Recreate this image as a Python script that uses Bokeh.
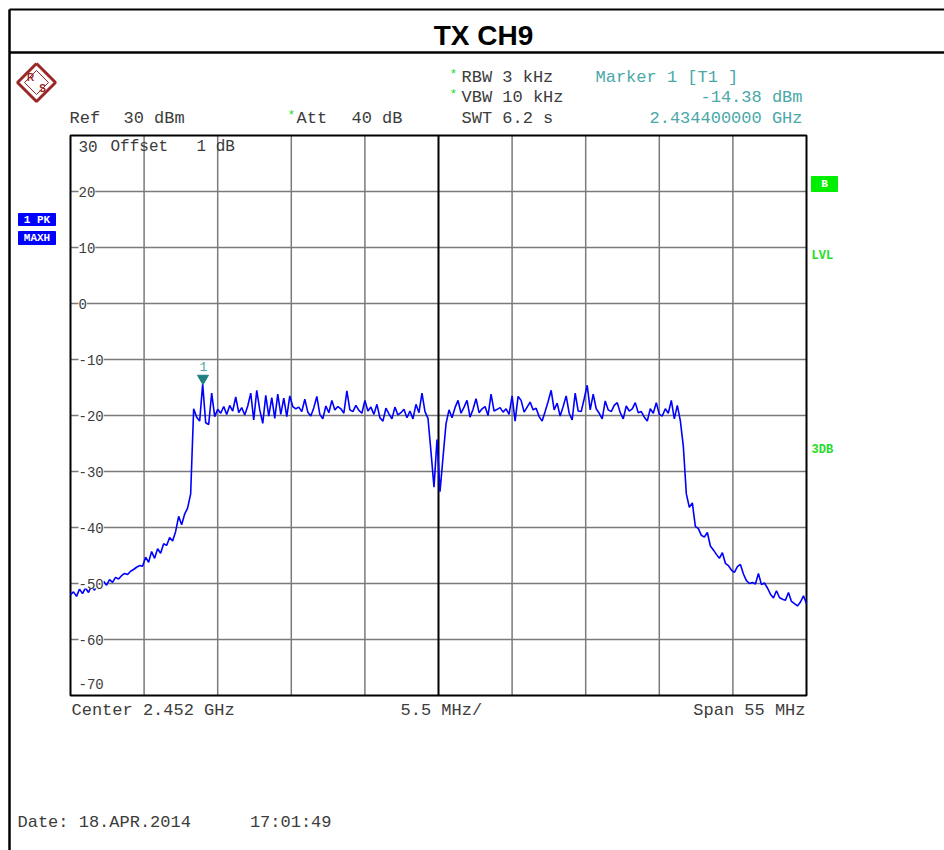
import numpy as np
from bokeh.plotting import figure
from bokeh.models import Label, Range1d
from bokeh.embed import file_html
from bokeh.resources import INLINE

# ---------------- data ----------------
CENTER_GHZ = 2.452
SPAN_GHZ = 0.055
REF_DBM = 30.0
RANGE_DB = 100.0
F_START = CENTER_GHZ - SPAN_GHZ / 2
F_STOP = CENTER_GHZ + SPAN_GHZ / 2

levels_left_skirt = [
    -52.0, -51.5, -52.3, -51.0, -51.8, -50.8, -51.6, -50.4, -51.2, -50.2,
    -50.8, -49.6, -50.3, -49.3, -49.8, -48.9, -49.2, -48.6, -48.2, -48.4,
    -47.8, -47.5, -47.1, -46.8, -46.9, -45.3, -46.2, -44.3, -45.5, -43.8,
    -44.6, -42.9, -43.2, -41.8, -42.4, -40.7, -38.0, -39.5, -37.6, -36.5,
    -34.0,
]
levels_band_low = [
    -18.8, -20.3, -21.0, -14.4, -21.3, -21.6, -16.0, -20.2, -18.9, -19.6,
    -18.4, -19.8, -18.2, -19.2, -16.7, -19.5, -18.6, -19.9, -18.3, -16.0,
    -20.8, -15.5, -19.0, -21.4, -16.4, -20.1, -16.8, -20.5, -16.2, -19.8,
    -16.9, -20.2, -16.5, -18.4, -18.8, -18.5, -19.3, -17.1, -19.4, -20.1,
    -18.6, -16.6, -19.8, -20.6, -18.3, -19.5, -17.3, -19.0, -18.4, -18.8,
    -19.6, -15.6, -19.0, -19.3, -18.2, -19.1, -19.6, -17.3, -19.2, -18.5,
    -19.8, -18.0, -20.4, -21.0, -18.7, -19.7, -20.6, -18.5, -19.9, -19.5,
    -18.9, -20.4, -19.2, -20.6, -18.0, -19.5, -16.0, -19.3, -20.5,
]
levels_notch = [-26.5, -32.8, -24.3, -33.6, -27.5, -21.5]
levels_band_high = [
    -19.0, -20.4, -18.6, -17.3, -19.6, -18.5, -17.3, -20.3, -18.9, -17.0,
    -19.5, -18.8, -18.4, -20.0, -16.2, -19.2, -18.9, -18.6, -19.4, -18.8,
    -19.8, -16.5, -21.0, -16.6, -17.3, -19.4, -18.5, -17.6, -19.0, -18.7,
    -20.2, -21.0, -19.3, -17.5, -15.5, -19.0, -17.8, -20.1, -18.4, -16.5,
    -19.6, -20.8, -16.0, -19.2, -19.3, -17.0, -14.6, -19.0, -16.2, -18.8,
    -19.6, -20.6, -17.4, -19.0, -19.3, -18.2, -17.7, -19.5, -20.6, -18.3,
    -19.2, -18.8, -17.7, -19.5, -19.3, -20.3, -21.0, -18.8, -19.6, -17.7,
    -19.8, -20.1, -18.8, -19.6, -17.3, -20.6, -18.2, -20.9,
]
levels_right_skirt = [
    -25.5, -34.0, -36.4, -35.6, -39.8, -40.2, -41.4, -41.7, -40.9, -43.3,
    -44.0, -44.8, -45.5, -44.5, -46.4, -46.8, -47.6, -48.0, -47.0, -46.6,
    -48.3, -49.5, -50.0, -49.8, -50.1, -48.2, -50.2, -49.9, -50.8, -51.9,
    -52.6, -51.3, -52.5, -52.8, -53.0, -51.6, -53.2, -53.6, -54.0, -53.3,
    -52.2, -53.6,
]

marker_freq_ghz = 2.4344
marker_level_dbm = -14.38

y_tick_values = [20, 10, 0, -10, -20, -30, -40, -50, -60]
y_tick_labels = ["20", "10", "0", "-10", "-20", "-30", "-40", "-50", "-60"]
bottom_tick_label = "-70"

title_text = "TX CH9"

levels = (levels_left_skirt + levels_band_low + levels_notch
          + levels_band_high + levels_right_skirt)
freqs = np.linspace(F_START, F_STOP, len(levels))  # analyzer sweep points

# ---------------- layout ----------------
W, H = 944, 850
PL, PT, PW, PH = 70, 135, 736, 560   # diagram area in page pixels

MONO = "Liberation Mono"
SANS = "Liberation Sans"
TEXT = "#3c3c3c"
TEAL = "#4aa8a8"
GREEN = "#1fdc2a"
GRID = "#7a7a7a"


def fx(px):
    """page pixel x -> frequency (GHz)"""
    return F_START + (px - PL) * SPAN_GHZ / PW


def fy(py):
    """page pixel y -> level (dBm)"""
    return REF_DBM - (py - PT) * RANGE_DB / PH


p = figure(width=W, height=H,
           x_range=Range1d(fx(0), fx(W)), y_range=Range1d(fy(H), fy(0)),
           output_backend="svg", toolbar_location=None,
           x_axis_location=None, y_axis_location=None, min_border=0)
p.grid.visible = False
p.background_fill_color = "white"
p.border_fill_color = "white"
p.outline_line_color = None

LOW = REF_DBM - RANGE_DB
div_ghz = SPAN_GHZ / 10

# grid
vx = [F_START + k * div_ghz for k in range(1, 10) if k != 5]
p.segment(x0=vx, y0=[LOW] * len(vx), x1=vx, y1=[REF_DBM] * len(vx),
          line_color=GRID, line_width=1.5)
p.segment(x0=[F_START] * len(y_tick_values), y0=y_tick_values,
          x1=[F_STOP] * len(y_tick_values), y1=y_tick_values,
          line_color=GRID, line_width=1.5)
p.segment(x0=[CENTER_GHZ], y0=[LOW], x1=[CENTER_GHZ], y1=[REF_DBM],
          line_color="black", line_width=2)
p.quad(left=[F_START], right=[F_STOP], bottom=[LOW], top=[REF_DBM],
       fill_alpha=0, line_color="black", line_width=2)


def lab(px, py, text, color=TEXT, size="17px", align="left", font=MONO,
        style="normal", bg=None):
    kw = dict(x=fx(px), y=fy(py), text=text, text_font=font, text_font_size=size,
              text_color=color, text_align=align, text_baseline="middle",
              text_font_style=style)
    if bg is not None:
        kw["background_fill_color"] = bg
    p.add_layout(Label(**kw))


def page_line(pts, color="black", width=2.0):
    p.line([fx(a) for a, b in pts], [fy(b) for a, b in pts],
           line_color=color, line_width=width)


def box(x0, y0, x1, y1, color):
    p.quad(left=[fx(x0)], right=[fx(x1)], top=[fy(y0)], bottom=[fy(y1)],
           fill_color=color, line_color=color)


# y labels inside the diagram (drawn before the trace)
lab(78, 146, "30", size="16px")
lab(110, 146, "Offset", size="16px")
lab(196, 146, "1 dB", size="16px")
for v, t in zip(y_tick_values, y_tick_labels):
    py = PT + (REF_DBM - v) * PH / RANGE_DB
    lab(78, py, t, size="14px", bg="white")
lab(78, 683, bottom_tick_label, size="14px")

# trace
p.line(freqs, levels, line_color="#0000ff", line_width=1.6)

# marker
p.scatter([marker_freq_ghz], [marker_level_dbm + 1.0], marker="inverted_triangle",
          size=11, fill_color="#1f8080", line_color="#1f8080")
lab(203, 366, "1", color=TEAL, size="13px", align="center")

# page frame lines
page_line([(9, 9), (9, 860)], width=2.5)
page_line([(9, 9), (960, 9)], width=2)
page_line([(9, 52), (960, 52)], width=2.5)

# title
lab(483, 35, title_text, color="black", size="28px", align="center", font=SANS,
    style="bold")

# R&S logo
LOGO = "#9a2626"
page_line([(36, 63), (55, 82), (36, 101), (17, 82), (36, 63)], color=LOGO, width=3)
page_line([(36, 70), (48, 82), (36, 94), (24, 82), (36, 70)], color=LOGO, width=1)
lab(30, 77, "R", color=LOGO, size="10px", align="center", font=SANS, style="bold")
lab(42, 88, "S", color=LOGO, size="10px", align="center", font=SANS, style="bold")

# header
lab(69, 118, "Ref")
lab(123, 118, "30 dBm")
lab(287, 115, "*", color=GREEN, size="13px")
lab(296, 118, "Att")
lab(351, 118, "40 dB")
lab(449, 74, "*", color=GREEN, size="13px")
lab(461, 77, "RBW 3 kHz")
lab(449, 94, "*", color=GREEN, size="13px")
lab(461, 97, "VBW 10 kHz")
lab(461, 118, "SWT 6.2 s")
lab(595, 77, "Marker 1 [T1 ]", color=TEAL)
lab(802, 97, "-14.38 dBm", color=TEAL, align="right")
lab(802, 118, "2.434400000 GHz", color=TEAL, align="right")

# left side trace boxes
box(18, 213, 55, 225, "#0000ff")
lab(36.5, 219.5, "1 PK", color="white", size="11px", align="center", style="bold")
box(18, 231, 55, 244, "#0000ff")
lab(36.5, 237.5, "MAXH", color="white", size="11px", align="center", style="bold")

# right side indicators
box(811, 176, 837, 191, "#00ee00")
lab(824, 183.5, "B", color="white", size="11px", align="center", style="bold")
lab(811, 255, "LVL", color=GREEN, size="12px", style="bold")
lab(811, 449, "3DB", color=GREEN, size="12px", style="bold")

# footer
lab(71, 710, "Center 2.452 GHz")
lab(400, 710, "5.5 MHz/")
lab(805, 710, "Span 55 MHz", align="right")
lab(17, 822, "Date: 18.APR.2014")
lab(331, 822, "17:01:49", align="right")

open("out.html", "w").write(file_html(p, INLINE))
